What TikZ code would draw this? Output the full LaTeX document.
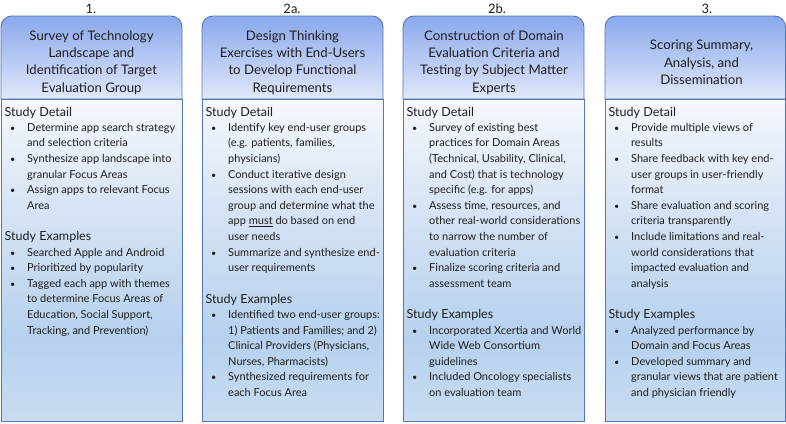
\documentclass[tikz,border=0pt]{standalone}
\usepackage{fontspec}
\setmainfont{Lato}
\definecolor{bordc}{HTML}{5676B0}
\definecolor{hdtop}{HTML}{8AA8EC}
\definecolor{hdbot}{HTML}{E0E8FA}
\definecolor{btop}{HTML}{F5F8FD}
\definecolor{bup}{HTML}{DAE6F6}
\definecolor{bmid}{HTML}{B6D1EE}
\definecolor{bbot}{HTML}{C8DCF2}
\definecolor{txtc}{HTML}{1E1E1E}
\pgfdeclareverticalshading{bodyshade}{100bp}{color(0bp)=(bbot); color(25bp)=(bbot); color(38bp)=(bmid); color(60bp)=(bup); color(75bp)=(btop); color(100bp)=(btop)}
\newcommand\colbody[3]{%
  \foreach \ltype/\ltext [count=\i] in {#3}{%
    \pgfmathsetmacro\yy{113+(\i-1)*15.6}%
    \if h\ltype \node[hd] (#2-\i) at (#1+3.5,\yy) {\ltext};\fi
    \if b\ltype \node[bul] (#2b-\i) at (#1+9,\yy) {\textbullet};
                \node[tx] (#2-\i) at (#1+26,\yy) {\ltext};\fi
    \if c\ltype \node[tx] (#2-\i) at (#1+26,\yy) {\ltext};\fi
  }%
}
\newcommand\colbox[3]{% left, right, name
  \path[hdbox] (#1,99) -- (#1,27) arc[start angle=180,end angle=270,radius=11]
     -- (#2-11,16) arc[start angle=270,end angle=360,radius=11] -- (#2,99) -- cycle;
  \path[bdbox] (#1,99) rectangle (#2,421);
}
\begin{document}
\begin{tikzpicture}[x=1pt,y=-1pt,
  hdbox/.style={draw=bordc, line width=0.9pt, top color=hdtop, bottom color=hdbot},
  bdbox/.style={draw=bordc, line width=0.9pt, shading=bodyshade},
  ttl/.style={align=center, font=\fontsize{13.2}{17.4}\selectfont, text=txtc, inner sep=0pt},
  num/.style={font=\fontsize{13}{15}\selectfont, text=txtc, inner sep=0pt},
  hd/.style={anchor=west, font=\fontsize{12.5}{14}\selectfont, text=txtc, inner sep=0pt, text height=8.5pt, text depth=2.5pt},
  tx/.style={anchor=west, font=\fontsize{11}{13}\selectfont, text=txtc, inner sep=0pt, text height=8pt, text depth=2.5pt},
  bul/.style={anchor=west, font=\fontsize{9}{11}\selectfont, text=txtc, inner sep=0pt, text height=8pt, text depth=2.5pt},
]
\useasboundingbox (0,0) rectangle (786,423);
\colbox{1}{182}{c1}
\colbox{202}{383}{c2}
\colbox{403}{584}{c3}
\colbox{605}{785.5}{c4}

\node[num] (n1) at (91,8.5) {1.};
\node[num] (n2) at (292,8.5) {2a.};
\node[num] (n3) at (497,8.5) {2b.};
\node[num] (n4) at (707,8.5) {3.};

\node[ttl] (t1) at (91.5,62.5) {Survey of Technology\\Landscape and\\Identification of Target\\Evaluation Group};
\node[ttl] (t2) at (292.5,62.5) {Design Thinking\\Exercises with End-Users\\to Develop Functional\\Requirements};
\node[ttl] (t3) at (494,62.5) {Construction of Domain\\Evaluation Criteria and\\Testing by Subject Matter\\Experts};
\node[ttl] (t4) at (701.5,62.5) {Scoring Summary,\\Analysis, and\\Dissemination};

\colbody{1}{a}{h/{Study Detail},
  b/{Determine app search strategy}, c/{and selection criteria},
  b/{Synthesize app landscape into}, c/{granular Focus Areas},
  b/{Assign apps to relevant Focus}, c/{Area},
  e/{},
  h/{Study Examples},
  b/{Searched Apple and Android},
  b/{Prioritized by popularity},
  b/{Tagged each app with themes}, c/{to determine Focus Areas of}, c/{Education, Social Support,}, c/{Tracking, and Prevention)}}

\colbody{202}{b}{h/{Study Detail},
  b/{Identify key end-user groups}, c/{(e.g. patients, families,}, c/{physicians)},
  b/{Conduct iterative design}, c/{sessions with each end-user}, c/{group and determine what the}, c/{app \underline{must} do based on end}, c/{user needs},
  b/{Summarize and synthesize end-}, c/{user requirements},
  e/{},
  h/{Study Examples},
  b/{Identified two end-user groups:}, c/{1) Patients and Families; and 2)}, c/{Clinical Providers (Physicians,}, c/{Nurses, Pharmacists)},
  b/{Synthesized requirements for}, c/{each Focus Area}}

\colbody{403}{c}{h/{Study Detail},
  b/{Survey of existing best}, c/{practices for Domain Areas}, c/{(Technical, Usability, Clinical,}, c/{and Cost) that is technology}, c/{specific (e.g. for apps)},
  b/{Assess time, resources, and}, c/{other real-world considerations}, c/{to narrow the number of}, c/{evaluation criteria},
  b/{Finalize scoring criteria and}, c/{assessment team},
  e/{},
  h/{Study Examples},
  b/{Incorporated Xcertia and World}, c/{Wide Web Consortium}, c/{guidelines},
  b/{Included Oncology specialists}, c/{on evaluation team}}

\colbody{605}{d}{h/{Study Detail},
  b/{Provide multiple views of}, c/{results},
  b/{Share feedback with key end-}, c/{user groups in user-friendly}, c/{format},
  b/{Share evaluation and scoring}, c/{criteria transparently},
  b/{Include limitations and real-}, c/{world considerations that}, c/{impacted evaluation and}, c/{analysis},
  e/{},
  h/{Study Examples},
  b/{Analyzed performance by}, c/{Domain and Focus Areas},
  b/{Developed summary and}, c/{granular views that are patient}, c/{and physician friendly}}
\end{tikzpicture}
\end{document}
